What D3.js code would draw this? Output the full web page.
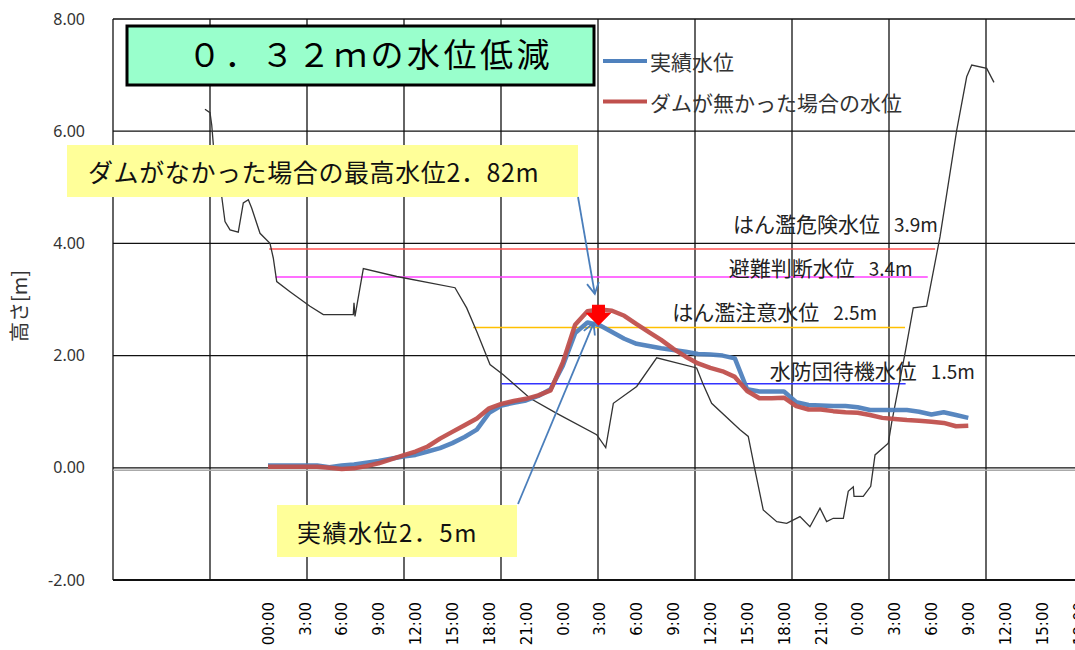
<!DOCTYPE html>
<html>
<head>
<meta charset="utf-8">
<script src="https://cdn.jsdelivr.net/npm/d3@7"></script>
<style>
  body { margin: 0; background: #fff; }
  text { font-family: "Noto Sans CJK JP", sans-serif; }
</style>
</head>
<body>
<svg id="chart" width="1075" height="650"></svg>
<script>
// hours counted from 00:00 of the first day
var hours = d3.range(0, 58);

var actual = [
  0.04, 0.04, 0.04, 0.04, 0.04, 0.01, 0.04, 0.06, 0.09, 0.12,
  0.16, 0.20, 0.23, 0.29, 0.35, 0.44, 0.55, 0.68, 0.98, 1.11,
  1.16, 1.20, 1.28, 1.40, 1.82, 2.40, 2.59, 2.54, 2.42, 2.30,
  2.21, 2.17, 2.13, 2.10, 2.07, 2.03, 2.02, 2.00, 1.95, 1.40,
  1.36, 1.36, 1.36, 1.17, 1.12, 1.11, 1.10, 1.10, 1.08, 1.03,
  1.03, 1.03, 1.03, 1.00, 0.95, 0.99, 0.94, 0.89
];

var noDam = [
  0.02, 0.02, 0.02, 0.02, 0.02, 0.00, -0.02, -0.01, 0.03, 0.08,
  0.15, 0.22, 0.29, 0.38, 0.52, 0.64, 0.76, 0.88, 1.06, 1.14,
  1.19, 1.23, 1.29, 1.38, 1.88, 2.55, 2.79, 2.82, 2.80, 2.71,
  2.56, 2.42, 2.28, 2.12, 1.98, 1.86, 1.78, 1.72, 1.62, 1.37,
  1.24, 1.24, 1.25, 1.10, 1.04, 1.04, 1.01, 0.99, 0.98, 0.94,
  0.89, 0.87, 0.85, 0.84, 0.82, 0.80, 0.74, 0.75
];

// thin black line (tide level)
var tideHours = [
  -5.13, -4.72, -4.58, -4.45, -3.77, -3.50, -3.09, -2.42, -2.01, -1.60,
  -1.33, -0.65, 0.16, 0.43, 0.71, 1.79, 3.42, 4.50, 6.94, 7.00,
  7.08, 7.76, 10.48, 15.22, 16.17, 16.99, 18.07, 19.15, 21.33, 23.50,
  26.75, 27.49, 28.11, 30.01, 31.64, 34.89, 35.40, 36.11, 38.42, 39.09,
  39.64, 40.31, 41.41, 42.22, 43.30, 44.11, 44.93, 45.47, 46.01, 46.83,
  47.23, 47.64, 47.70, 48.45, 49.06, 49.41, 50.49, 50.76, 51.85, 52.52,
  53.61, 54.70, 56.06, 56.87, 57.28, 58.50, 59.09
];
var tideLevels = [
  6.39, 6.33, 6.11, 5.76, 4.84, 4.39, 4.24, 4.20, 4.72, 4.78,
  4.63, 4.18, 4.00, 3.74, 3.32, 3.14, 2.88, 2.73, 2.73, 2.94,
  2.70, 3.55, 3.41, 3.21, 2.85, 2.43, 1.84, 1.66, 1.24, 0.97,
  0.59, 0.36, 1.15, 1.45, 1.96, 1.78, 1.50, 1.15, 0.68, 0.56,
  -0.04, -0.75, -0.96, -0.99, -0.87, -1.05, -0.72, -0.96, -0.90, -0.90,
  -0.42, -0.34, -0.51, -0.51, -0.33, 0.23, 0.44, 0.80, 2.04, 2.85,
  2.88, 4.12, 6.02, 6.97, 7.18, 7.12, 6.87
];

// warning levels
var levelNames = ["はん濫危険水位", "避難判断水位", "はん濫注意水位", "水防団待機水位"];
var levelValues = [3.9, 3.4, 2.5, 1.5];
var levelStart = [0.1, 0.6, 16.7, 19.0];
var levelEnd = [54.3, 53.7, 51.85, 51.9];
var levelColors = ["#ff5050", "#ff40ff", "#ffc000", "#3333ff"];
// label anchor: [hour, pixel offset above the line]
var levelLabelPos = [[37.85, -26], [37.5, -10], [32.9, -17], [40.85, -14]];

var seriesNames = ["実績水位", "ダムが無かった場合の水位"];
var seriesColors = ["#4f81bd", "#c0504d"];

var yTicks = [-2, 0, 2, 4, 6, 8];
var xTicks = d3.range(0, 67, 3);

var title = "０．３２ｍの水位低減";
var noteMax = "ダムがなかった場合の最高水位2．82m";
var noteActual = "実績水位2．5m";

var x = d3.scaleLinear().domain([0, 63]).range([268, 1042]),
    y = d3.scaleLinear().domain([-2, 8]).range([580, 19]),
    grid = d3.scaleLinear().domain([0, 10]).range([113, 1083]);

var svg = d3.select("#chart");

svg.append("defs").append("clipPath")
    .attr("id", "plot")
  .append("rect")
    .attr("x", 113)
    .attr("y", 19)
    .attr("width", 970)
    .attr("height", 561);

// grid
svg.append("g")
  .selectAll("line")
    .data(grid.ticks(10))
  .enter().append("line")
    .attr("x1", grid)
    .attr("x2", grid)
    .attr("y1", y(8))
    .attr("y2", y(-2))
    .style("stroke", "#111")
    .style("stroke-width", 1.3);

svg.append("g")
  .selectAll("line")
    .data(yTicks)
  .enter().append("line")
    .attr("x1", grid(0))
    .attr("x2", grid(10))
    .attr("y1", y)
    .attr("y2", y)
    .style("stroke", "#111")
    .style("stroke-width", function(d) { return d === -2 ? 2 : 1.3; });

svg.append("line")
    .attr("x1", grid(0))
    .attr("x2", grid(10))
    .attr("y1", y(0) + 2.5)
    .attr("y2", y(0) + 2.5)
    .style("stroke", "#aaa")
    .style("stroke-width", 1.5);

// y axis
var yAxis = svg.append("g")
    .attr("transform", "translate(" + grid(0) + ",0)")
    .call(d3.axisLeft(y)
      .tickValues(yTicks)
      .tickSize(0)
      .tickPadding(28)
      .tickFormat(function(d) { return d.toFixed(2); }));
yAxis.select(".domain").remove();
yAxis.selectAll("text")
    .style("font-family", "'Noto Sans', sans-serif")
    .style("font-size", "16px")
    .style("fill", "#333");

svg.append("text")
    .attr("transform", "translate(18,306) rotate(-90)")
    .attr("text-anchor", "middle")
    .attr("dominant-baseline", "central")
    .style("font-size", "20px")
    .style("fill", "#333")
    .text("高さ[m]");

// x axis
var xAxis = svg.append("g")
    .attr("transform", "translate(0," + y(-2) + ")")
    .call(d3.axisBottom(x)
      .tickValues(xTicks)
      .tickSize(0)
      .tickFormat(function(d, i) { return i === 0 ? "00:00" : (d % 24) + ":00"; }));
xAxis.select(".domain").remove();
xAxis.selectAll("text")
    .attr("transform", "rotate(-90)")
    .attr("x", -22)
    .attr("y", 0)
    .attr("dy", "0.35em")
    .style("text-anchor", "end")
    .style("font-family", "'DejaVu Sans', sans-serif")
    .style("font-size", "15px")
    .style("fill", "#000");

// warning level lines
var levels = svg.append("g")
  .selectAll("g")
    .data(levelValues)
  .enter().append("g");

levels.append("line")
    .attr("x1", function(d, i) { return x(levelStart[i]); })
    .attr("x2", function(d, i) { return x(levelEnd[i]); })
    .attr("y1", y)
    .attr("y2", y)
    .style("stroke", function(d, i) { return levelColors[i]; })
    .style("stroke-width", 1.5);

var levelText = levels.append("text")
    .attr("x", function(d, i) { return x(levelLabelPos[i][0]); })
    .attr("y", function(d, i) { return y(d) + levelLabelPos[i][1]; })
    .attr("dominant-baseline", "central")
    .style("font-size", "21px")
    .style("fill", "#222");
levelText.append("tspan")
    .text(function(d, i) { return levelNames[i]; });
levelText.append("tspan")
    .attr("dx", 14)
    .style("font-size", "19px")
    .text(function(d) { return d.toFixed(1) + "m"; });

// tide line
var tide = d3.line()
    .x(function(d) { return x(d[0]); })
    .y(function(d) { return y(d[1]); });

svg.append("path")
    .datum(d3.zip(tideHours, tideLevels))
    .attr("clip-path", "url(#plot)")
    .attr("d", tide)
    .style("fill", "none")
    .style("stroke", "#333")
    .style("stroke-width", 1.3);

// water level series
var level = d3.line()
    .x(function(d, i) { return x(hours[i]); })
    .y(function(d) { return y(d); });

svg.append("g")
  .selectAll("path")
    .data([actual, noDam])
  .enter().append("path")
    .attr("d", level)
    .style("fill", "none")
    .style("stroke", function(d, i) { return seriesColors[i]; })
    .style("stroke-width", 4.5)
    .style("stroke-linejoin", "round")
    .style("stroke-opacity", 0.95);

// notes
svg.append("rect")
    .attr("x", 67)
    .attr("y", 145)
    .attr("width", 511)
    .attr("height", 52)
    .style("fill", "#ffff99");
svg.append("text")
    .attr("x", 88)
    .attr("y", 171)
    .attr("dominant-baseline", "central")
    .style("font-size", "25px")
    .style("letter-spacing", "0.6px")
    .style("fill", "#111")
    .text(noteMax);

svg.append("rect")
    .attr("x", 277)
    .attr("y", 505)
    .attr("width", 240)
    .attr("height", 52)
    .style("fill", "#ffff99");
svg.append("text")
    .attr("x", 297)
    .attr("y", 531)
    .attr("dominant-baseline", "central")
    .style("font-size", "24px")
    .style("letter-spacing", "1.5px")
    .style("fill", "#111")
    .text(noteActual);

svg.append("defs").append("marker")
    .attr("id", "head")
    .attr("markerUnits", "userSpaceOnUse")
    .attr("viewBox", "-12 -8 14 16")
    .attr("markerWidth", 14)
    .attr("markerHeight", 16)
    .attr("orient", "auto")
  .append("path")
    .attr("d", "M-11,-6L0,0L-11,6")
    .style("fill", "none")
    .style("stroke", "#4a7ebb")
    .style("stroke-width", 1.8);

var arrows = [
  [[578, 197], [x(26.6), y(3.1)]],
  [[518, 504], [x(26.5), y(2.58)]]
];

svg.append("g")
  .selectAll("line")
    .data(arrows)
  .enter().append("line")
    .attr("x1", function(d) { return d[0][0]; })
    .attr("y1", function(d) { return d[0][1]; })
    .attr("x2", function(d) { return d[1][0]; })
    .attr("y2", function(d) { return d[1][1]; })
    .attr("marker-end", "url(#head)")
    .style("stroke", "#4a7ebb")
    .style("stroke-width", 1.8);

// red block arrow pointing at the actual peak
var cx = x(26.9), tip = y(2.53);
svg.append("path")
    .attr("d", "M" + (cx - 6.5) + "," + (tip - 21) + "H" + (cx + 6.5) + "V" + (tip - 13) +
      "H" + (cx + 13) + "L" + cx + "," + tip + "L" + (cx - 13) + "," + (tip - 13) +
      "H" + (cx - 6.5) + "Z")
    .style("fill", "#ff0000");

// title box
svg.append("rect")
    .attr("x", 127)
    .attr("y", 26)
    .attr("width", 467)
    .attr("height", 59)
    .style("fill", "#99ffcc")
    .style("stroke", "#000")
    .style("stroke-width", 3);
svg.append("text")
    .attr("x", 188)
    .attr("y", 53)
    .attr("dominant-baseline", "central")
    .style("font-size", "33px")
    .style("letter-spacing", "3.5px")
    .style("fill", "#000")
    .text(title);

// legend
var legend = svg.append("g")
  .selectAll("g")
    .data(seriesNames)
  .enter().append("g")
    .attr("transform", function(d, i) { return "translate(603," + (61 + i * 40.5) + ")"; });

legend.append("line")
    .attr("x1", 0)
    .attr("x2", 44)
    .style("stroke", function(d, i) { return seriesColors[i]; })
    .style("stroke-width", 4);

legend.append("text")
    .attr("x", 47)
    .attr("dominant-baseline", "central")
    .style("font-size", "21px")
    .style("fill", "#333")
    .text(function(d) { return d; });
</script>
</body>
</html>
